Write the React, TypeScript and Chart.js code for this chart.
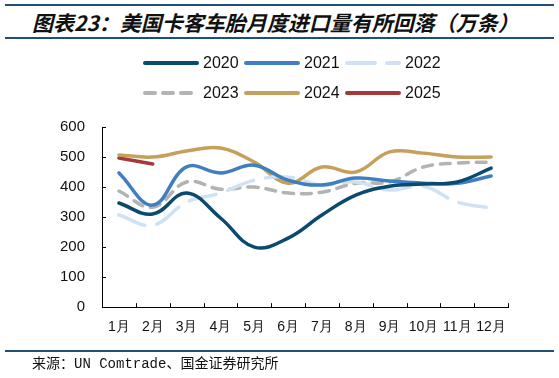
import React, { useEffect, useRef } from "react";
import { Chart, registerables } from "chart.js";

Chart.register(...registerables);

const months = ["1月", "2月", "3月", "4月", "5月", "6月", "7月", "8月", "9月", "10月", "11月", "12月"];
const s2020 = [347, 310, 380, 297, 200, 230, 307, 373, 403, 410, 417, 463];
const s2021 = [447, 340, 467, 447, 473, 423, 407, 430, 420, 413, 413, 437];
const s2022 = [307, 273, 350, 380, 423, 433, 407, 417, 390, 403, 350, 330];
const s2023 = [387, 333, 417, 393, 400, 380, 383, 413, 417, 467, 480, 483];
const s2024 = [507, 500, 520, 530, 483, 413, 467, 450, 517, 513, 500, 500];
const s2025 = [497, 477];
const yTicks = [0, 100, 200, 300, 400, 500, 600];

const titleText = "图表23：美国卡客车胎月度进口量有所回落（万条）";
const sourceText = "来源：UN Comtrade、国金证券研究所";

const legendPlugin = {
  id: "customLegend",
  afterDraw(chart: any) {
    const ctx = chart.ctx;
    const cols = [145, 246, 347];
    const rows = [63, 93];
    chart.data.datasets.forEach((ds: any, i: number) => {
      const x = cols[i % 3];
      const y = rows[Math.floor(i / 3)];
      ctx.save();
      ctx.strokeStyle = ds.borderColor;
      ctx.lineWidth = 4;
      ctx.lineCap = "round";
      ctx.setLineDash(ds.borderDash || []);
      ctx.beginPath();
      ctx.moveTo(x, y);
      ctx.lineTo(x + 52, y);
      ctx.stroke();
      ctx.setLineDash([]);
      ctx.fillStyle = "#111";
      ctx.font = "16px 'Liberation Sans', Arial, sans-serif";
      ctx.textBaseline = "middle";
      ctx.textAlign = "left";
      ctx.fillText(ds.label, x + 58, y + 1);
      ctx.restore();
    });
  },
};

const tickPlugin = {
  id: "innerTicks",
  afterDraw(chart: any) {
    const ctx = chart.ctx;
    const xs = chart.scales.x;
    const ys = chart.scales.y;
    const area = chart.chartArea;
    ctx.save();
    ctx.strokeStyle = "#000";
    ctx.lineWidth = 1;
    ctx.beginPath();
    for (let i = 0; i <= months.length; i++) {
      const px = Math.round(xs.getPixelForValue(i - 0.5)) + 0.5;
      ctx.moveTo(px, area.bottom);
      ctx.lineTo(px, area.bottom - 4);
    }
    yTicks.forEach((v) => {
      const py = Math.round(ys.getPixelForValue(v)) + 0.5;
      ctx.moveTo(area.left, py);
      ctx.lineTo(area.left + 4, py);
    });
    ctx.stroke();
    ctx.restore();
  },
};

export default function App() {
  const ref = useRef<HTMLCanvasElement>(null);
  useEffect(() => {
    if (!ref.current) return;
    const mk = (label: string, data: number[], color: string, dash?: number[]) => ({
      label,
      data,
      borderColor: color,
      backgroundColor: color,
      borderWidth: 3.5,
      borderDash: dash,
      pointRadius: 0,
      tension: 0.4,
      fill: false,
      borderCapStyle: "round",
    });
    const chart = new Chart(ref.current, {
      type: "line",
      data: {
        labels: months,
        datasets: [
          mk("2020", s2020, "#0b4a6f"),
          mk("2021", s2021, "#3f7fc1"),
          mk("2022", s2022, "#cfe1f3", [28, 12]),
          mk("2023", s2023, "#b3b3b3", [10, 8]),
          mk("2024", s2024, "#c4a05a"),
          mk("2025", s2025, "#a33a3a"),
        ] as any,
      },
      options: {
        animation: false,
        responsive: false,
        devicePixelRatio: 1,
        layout: { padding: { top: 127, left: 43, right: 51, bottom: 30 } },
        plugins: { legend: { display: false }, tooltip: { enabled: false } },
        scales: {
          x: {
            offset: true,
            grid: { display: false, drawTicks: false },
            border: { display: true, color: "#000", width: 1 },
            ticks: {
              color: "#111",
              padding: 12,
              maxRotation: 0,
              autoSkip: false,
              font: { size: 14, family: "'Liberation Sans', Arial, sans-serif" },
            },
          },
          y: {
            min: 0,
            max: 600,
            grid: { display: false, drawTicks: false },
            border: { display: true, color: "#000", width: 1 },
            afterBuildTicks: (scale: any) => {
              scale.ticks = yTicks.map((v) => ({ value: v }));
            },
            ticks: {
              color: "#111",
              padding: 17,
              font: { size: 15, family: "'Liberation Sans', Arial, sans-serif" },
            },
          },
        },
      },
      plugins: [legendPlugin, tickPlugin],
    });
    return () => chart.destroy();
  }, []);

  return (
    <div style={{ position: "fixed", left: 0, top: 0, width: 559, height: 378, background: "#fff", overflow: "hidden" }}>
      <div style={{ position: "absolute", left: 5, right: 5, top: 4, height: 2, background: "#1f4e79" }} />
      <div
        style={{
          position: "absolute",
          left: 32,
          top: 7,
          fontFamily: "'Noto Sans CJK SC', sans-serif",
          fontWeight: 700,
          fontStyle: "italic",
          fontSize: 21,
          lineHeight: "30px",
          color: "#111",
          whiteSpace: "nowrap",
        }}
      >
        {titleText}
      </div>
      <div style={{ position: "absolute", left: 5, right: 5, top: 37, height: 2, background: "#1f4e79" }} />
      <canvas ref={ref} width={559} height={378} style={{ position: "absolute", left: 0, top: 0, width: 559, height: 378 }} />
      <div style={{ position: "absolute", left: 5, right: 5, top: 350, height: 2, background: "#1f4e79" }} />
      <div
        style={{
          position: "absolute",
          left: 32,
          top: 356,
          fontFamily: "'Liberation Mono', 'Noto Sans CJK SC', monospace",
          fontSize: 14,
          lineHeight: "17px",
          color: "#111",
          whiteSpace: "nowrap",
        }}
      >
        {sourceText}
      </div>
    </div>
  );
}
